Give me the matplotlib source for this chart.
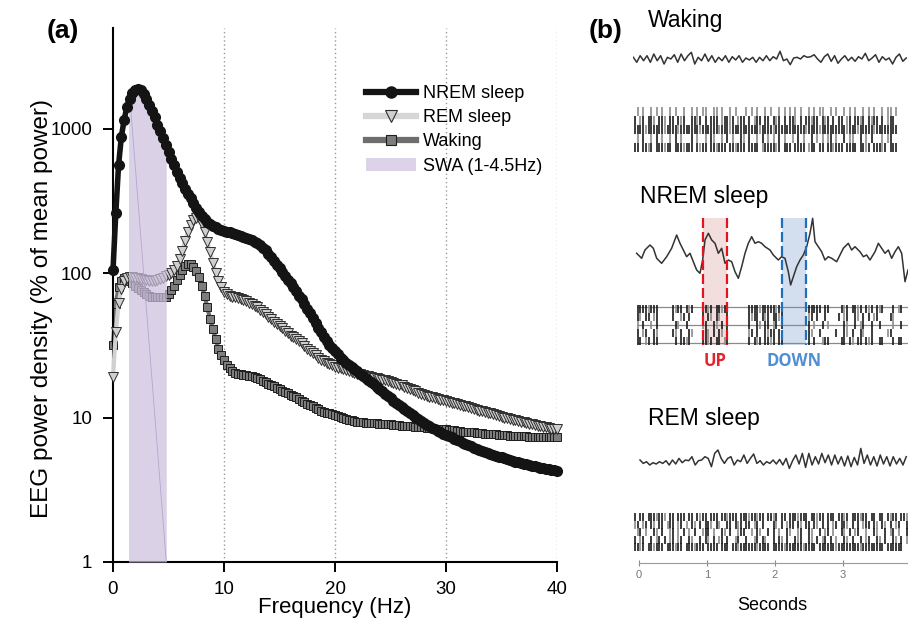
import numpy as np
import matplotlib
matplotlib.use('Agg')
import matplotlib.pyplot as plt
from matplotlib.lines import Line2D
from matplotlib.patches import Patch

plt.rcParams['font.family'] = ['Liberation Sans', 'DejaVu Sans']

# ---------------- panel (a): EEG spectra, 0.25 Hz bins
freq = np.arange(0, 40.25, 0.25)
nrem = [105, 260, 560, 880, 1150, 1420, 1620, 1780,          # 0 - 1.75
        1860, 1900, 1860, 1750, 1600, 1470, 1330, 1200,      # 2 - 3.75
        1070, 960, 860, 770, 690, 620, 560, 505,             # 4 - 5.75
        460, 420, 385, 355, 330, 305, 285, 265,              # 6 - 7.75
        250, 238, 228, 220, 213, 208, 204, 200,              # 8 - 9.75
        197, 194, 192, 189, 187, 185, 182, 179,              # 10 - 11.75
        176, 173, 169, 165, 161, 156, 150, 144,              # 12 - 13.75
        137, 130, 122, 115, 108, 102, 96, 90,                # 14 - 15.75
        85, 80, 75, 70, 66, 61, 57, 53,                      # 16 - 17.75
        49, 45, 42, 39, 36, 34, 32, 30.5,                    # 18 - 19.75
        29, 27.5, 26, 25, 24, 23.2, 22.5, 21.7,              # 20 - 21.75
        21, 20.2, 19.5, 18.9, 18.3, 17.6, 17, 16.4,          # 22 - 23.75
        15.8, 15.2, 14.6, 14.1, 13.6, 13.1, 12.7, 12.3,      # 24 - 25.75
        11.9, 11.5, 11.1, 10.7, 10.4, 10.1, 9.8, 9.5,        # 26 - 27.75
        9.2, 8.95, 8.7, 8.5, 8.3, 8.1, 7.9, 7.75,            # 28 - 29.75
        7.6, 7.45, 7.3, 7.15, 7.0, 6.85, 6.7, 6.6,           # 30 - 31.75
        6.5, 6.35, 6.2, 6.1, 6.0, 5.9, 5.8, 5.7,             # 32 - 33.75
        5.6, 5.52, 5.45, 5.37, 5.3, 5.22, 5.15, 5.07,        # 34 - 35.75
        5.0, 4.95, 4.9, 4.85, 4.8, 4.75, 4.7, 4.65,          # 36 - 37.75
        4.6, 4.55, 4.5, 4.46, 4.42, 4.38, 4.35, 4.32,        # 38 - 39.75
        4.3]
rem = [19, 39, 62, 78, 88, 92, 94, 94,
       93, 92, 91, 90, 90, 89, 89, 89,
       90, 91, 93, 95, 97, 100, 105, 113,
       125, 143, 168, 192, 215, 233, 243, 240,
       218, 192, 165, 140, 118, 101, 88, 80,
       74, 72, 70, 69, 68, 67, 66, 65,
       64, 62.5, 61, 59.5, 58, 56, 54, 52,
       50, 48, 46, 44.5, 43, 41.5, 40, 38.5,
       37, 36, 35, 34, 33, 31.5, 30, 29,
       28, 27, 26, 25.2, 24.5, 24, 23.5, 23,
       22.5, 22.2, 22, 21.6, 21.3, 21, 20.8, 20.5,
       20.2, 19.9, 19.7, 19.5, 19.3, 19.1, 18.9, 18.7,
       18.5, 18.3, 18.1, 17.9, 17.7, 17.4, 17.2, 16.9,
       16.7, 16.4, 16.1, 15.8, 15.5, 15.2, 14.9, 14.6,
       14.4, 14.2, 14.0, 13.8, 13.6, 13.45, 13.3, 13.15,
       13.0, 12.85, 12.7, 12.55, 12.4, 12.25, 12.1, 11.95,
       11.8, 11.65, 11.5, 11.35, 11.2, 11.05, 10.9, 10.8,
       10.7, 10.55, 10.4, 10.25, 10.1, 10.0, 9.9, 9.8,
       9.7, 9.6, 9.5, 9.4, 9.3, 9.2, 9.1, 9.0,
       8.9, 8.8, 8.7, 8.62, 8.55, 8.48, 8.4, 8.35,
       8.3]
wake = [32, 61, 80, 89, 92, 90, 88, 85,
        82, 79, 76, 74, 72, 70, 69, 68,
        68, 68, 68, 69, 72, 76, 82, 90,
        98, 106, 113, 116, 116, 111, 104, 94,
        82, 70, 58, 48, 41, 35, 30, 27,
        25, 23.3, 22, 21, 20.5, 20.2, 20, 19.8,
        19.7, 19.5, 19.3, 19.1, 18.8, 18.4, 18, 17.6,
        17.2, 16.8, 16.5, 16.1, 15.8, 15.4, 15.1, 14.7,
        14.4, 14.1, 13.8, 13.4, 13.1, 12.8, 12.5, 12.2,
        12.0, 11.7, 11.5, 11.2, 11.0, 10.85, 10.7, 10.55,
        10.4, 10.25, 10.1, 9.95, 9.8, 9.7, 9.6, 9.5,
        9.4, 9.35, 9.3, 9.25, 9.2, 9.2, 9.2, 9.15,
        9.1, 9.1, 9.1, 9.05, 9.0, 8.95, 8.9, 8.85,
        8.8, 8.78, 8.75, 8.72, 8.7, 8.65, 8.6, 8.58,
        8.55, 8.52, 8.5, 8.45, 8.4, 8.38, 8.35, 8.32,
        8.3, 8.25, 8.2, 8.15, 8.1, 8.05, 8.0, 7.98,
        7.95, 7.92, 7.9, 7.85, 7.8, 7.78, 7.75, 7.72,
        7.7, 7.68, 7.65, 7.62, 7.6, 7.58, 7.55, 7.52,
        7.5, 7.5, 7.5, 7.48, 7.45, 7.42, 7.4, 7.4,
        7.4, 7.38, 7.35, 7.35, 7.35, 7.32, 7.3, 7.3,
        7.3]
swa_band = (1.4, 4.8)
xticks_a = [0, 10, 20, 30, 40]
yticks_a = [1, 10, 100, 1000]
legend_labels = ['NREM sleep', 'REM sleep', 'Waking', 'SWA (1-4.5Hz)']

# ---------------- panel (b): EEG traces (amplitude in px-like units) and rasters
wake_eeg = [1.7, -3.3, 3.3, -1.7, 3.3, -3.3, 5, -1.7, 3.3, -5, 1.7, 0, 4.3, -3.3, 5, -1.7,
            3.3, 6.7, -5, 1.7, -1.7, 5, -2.3, 3.3, -3.3, 1.7, -1.7, 3.3, -3.3, 2.3, -1, 3.3,
            -3.3, 1, -1, 1.7, -3.3, 1.7, -1.7, 3.3, -1.7, 2.3, 0, 7.7, -1.7, 0, -5.7, 1,
            1.7, 0, 3.3, 1.7, 2.3, 4.3, 0, -3.3, 2.3, 5, -2.3, 3.3, -4.3, 0, 3.3, -1.7,
            1.7, -2.3, 2.3, 0, 5.7, -1.7, 1, 4.3, -3.3, 2.3, -1, 1, -5, 1.7, 5, -2.3, 1]
wake_span = (-0.083, 3.93)
rem_eeg = [1.7, -1.7, 0, -3.3, -1, -2.3, 0, -1.7, 1, -3.3, 1.7, -2.3, 3.3, -1, 1.7, 1,
           5, -3.3, 1, 1.7, 5, 3.3, -5, 8.3, 11.7, 3.3, -1.7, 3.3, 5, -3.3, 1.7, 0,
           6.7, -1.7, 3.3, 7.7, -1.7, 1, -3.3, 0, -1.7, 1.7, -2.3, 2.3, -3.3, 3.3, -6.7, 1,
           6.7, -2.3, 8.3, -5.7, 8.3, -3.3, 5, -2.3, 8.3, -1, 6.7, -3.3, 6.7, -2.3, 5, -4.3,
           5.7, -5, 4.3, -3.3, 13.3, -1.7, 6.7, -3.3, 5, -4.3, 6.7, -2.3, 5, -4.3, 5, -2.3,
           3.3, -3.3, 5]
rem_span = (0.015, 3.93)
nrem_t = [-0.034, 0.039, 0.088, 0.162, 0.211, 0.26, 0.333, 0.407, 0.48, 0.554, 0.603, 0.652,
          0.701, 0.75, 0.799, 0.848, 0.897, 0.936, 0.971, 1.02, 1.069, 1.118, 1.167, 1.216,
          1.265, 1.314, 1.363, 1.412, 1.461, 1.51, 1.559, 1.608, 1.657, 1.706, 1.755, 1.804,
          1.853, 1.926, 1.975, 2.049, 2.098, 2.147, 2.196, 2.23, 2.27, 2.319, 2.368, 2.417,
          2.466, 2.515, 2.554, 2.588, 2.637, 2.686, 2.735, 2.784, 2.833, 2.907, 2.956, 3.005,
          3.078, 3.127, 3.176, 3.25, 3.299, 3.348, 3.397, 3.471, 3.52, 3.569, 3.618, 3.667,
          3.716, 3.765, 3.814, 3.863, 3.912, 3.956]
nrem_eeg = [4.7, -0.3, 8, 13, 9.7, -0.3, -5.3, 1.3, 9.7, 23, 14.7, 8,
            1.3, 4.7, -3.7, -12, -15.3, -2, 18, 24.7, 18, 14.7, 4.7, 9.7,
            -5.3, -2, -3.7, -13.7, -20.3, -8.7, 4.7, 14.7, 21.3, 14.7, 16.3, 14.7,
            11.3, 8, 3, -2, 1.3, -0.3, -13.7, -27, -18.7, -8.7, -2, 3,
            11.3, 24.7, 39.7, 16.3, 11.3, 6.3, -2, 1.3, -0.3, -3.7, 3, 9.7,
            14.7, 8, 11.3, 6.3, 1.3, 3, -2, 6.3, 14.7, 9.7, 4.7, 8,
            -0.3, 6.3, 11.3, 4.7, -23.7, -12]
up_state = (0.941, 1.294)
down_state = (2.103, 2.456)
seconds_ticks = [0, 1, 2, 3]

# raster rows: one char per 40 ms bin from -0.08 s; '|' spike, ':' faint spike
raster_bin0, raster_dt = -0.08, 0.04
wake_raster = [
    ".:.:..:.:.:..:.:..:..:.:.::..::.:..:.:...:.:.:..:.:..:.:.:.:.:..:.:.::..:.:..:.:.:..:.:.:..:.::.:.",
    "|.:|.||:.||:.||.|:|..||:|.|.|||.:||:|.:||.|.:||.||.|:|.|.||:.|.||:||.|:|.|.||.:|.||:|.|:||.|.:||",
    "||||:||||||:||||:|||||||:||||||:|||:||||||||||:||||:|||||||||||:||||:|||||||||:|||:|||||:||||||||",
    ".:.|..:.|.:..:.|.:...|.:..:.|:..:.|.:..|:.|..:.|.:.:.|.:..:.|.:..|.:.:.:|.:..|.::..|.:.|...:.:|..",
    "||.||:|.|||:||.|||:|||.|:||.||:|||.||:|||.||||.:||||:|.|||.||||.:||.||.||:|||.||||.||:|.|||:|.|||",
]
nrem_raster = [
    ".||||:|||.....|:||.|:|...||:|.||:||.......||||:|||||:||.........|||||.||....|:|.||:|.|:|.|:|...|.:|..",
    ".|:.||.:|.....|..:|.|....|.|:.|:..|.......|:||.|:|.||:|.........:|.|..|....|.:|..|:.|.|.:|....|:...",
    ".:.|..:.|......|:..|.....:|..|:.|.|.......|..|:.||.:|.|.........|.:..|.:.....|:..|.:|..|..|....:..|..",
    ".|.:|..|:.....|:.|..|:....|:.|.|:.|.......:|.|..|:||.|..........|:..|.....|..|:.|..|:..|.....:|...",
    ".||.:|.||......|.||:|....||:|.||.:|.......|.|:|.||:|.||.........|.|..:||....||.|:.||.|:|..||...|.||..",
]
rem_raster = [
    "|.||.|||:||:.||.|||.||.|:||.|||.||:|||.|||:||:||.||:|.||.|||:|||.||:||.|||.||:|.|||:||.||.||.|:||.||:|",
    ":|.:|.|:.||.:||.:|.:.|:.|.||:.|:..||.|:|.||.:|.|...|:.|.:||.|:.||.|:.|.|.:|.||:.|.|.:||.|:.|:.|.:|..|:",
    ".:|.:..|:.|..:|.:.|.:.|..:||.:..|:.|..:||..:.|:..|.|.:..|:..:|..|:..|.:|.:..|:.|.:|..:..|:..|.:|.:..|:..",
    "|.:|..|.:|.|.:|.:|..|:..|.|:.|.:|.|..:|..|..:|.|:..|.|:.|..|:|..|:.|.:|.|.:..|:.|..|.:|..|:.|..|:.|.:|",
    "||:|.||:|||.|||:||.|||:|||.||||.|||.||:||||||:||||.||||:||||||:||||.||||||:||||||||:||||||||.||||||",
]

W, H = 908, 634
fig = plt.figure(figsize=(W / 100, H / 100), dpi=100)

# ---------------------------------------------------------------- panel (a)
ax = fig.add_axes([113 / W, (H - 562) / H, 444 / W, 534 / H])
ax.set_yscale('log')
ax.set_xlim(0, 40)
ax.set_ylim(1, 5000)

for xv in xticks_a[1:]:
    ax.axvline(xv, color='#9a9a9a', lw=1, ls=(0, (1, 2)), zorder=1)

ax.plot(freq, wake, color='#6e6e6e', lw=3, marker='s', ms=6, mfc='#7d7d7d',
        mec='#1e1e1e', mew=0.7, zorder=2, clip_on=False)
ax.plot(freq, rem, color='#d0d0d0', lw=3, marker='v', ms=6.8, mfc='#cfcfcf',
        mec='#2e2e2e', mew=0.7, zorder=3, clip_on=False)

lo, hi = swa_band
inside = (freq > lo) & (freq < hi)
bx = np.concatenate([[lo], freq[inside], [hi]])
by = np.interp(bx, freq, nrem)
ax.fill_between(bx, 1, by, color='#cdc0de', alpha=0.72, lw=0, zorder=3.5)
ax.plot([lo + 0.15, hi], [by[0], 1], color='#b3a7cc', lw=0.6, zorder=3.6)

ax.plot(freq, nrem, color='#141414', lw=4, marker='o', ms=7, mfc='#141414',
        mec='#141414', zorder=4, clip_on=False)

for s in ['top', 'right']:
    ax.spines[s].set_visible(False)
for s in ['left', 'bottom']:
    ax.spines[s].set_linewidth(1.5)
ax.set_xticks(xticks_a)
ax.set_yticks(yticks_a)
ax.set_yticklabels([str(v) for v in yticks_a])
ax.minorticks_off()
ax.tick_params(direction='out', length=7, width=1.4, labelsize=13.5)
ax.tick_params(axis='x', pad=7)
ax.tick_params(axis='y', pad=8)

ax.set_xlabel('Frequency (Hz)', fontsize=16)
ax.xaxis.set_label_coords(0.5, -0.066)
ax.set_ylabel('EEG power density (% of mean power)', fontsize=17.5)
ax.yaxis.set_label_coords(-0.135, 0.474)

handles = [
    Line2D([], [], color='#141414', lw=4.5, marker='o', ms=8, mfc='#141414', mec='#141414'),
    Line2D([], [], color='#d6d6d6', lw=4.5, marker='v', ms=8, mfc='#cfcfcf', mec='#2e2e2e', mew=0.8),
    Line2D([], [], color='#6e6e6e', lw=4.5, marker='s', ms=7.5, mfc='#7d7d7d', mec='#1e1e1e', mew=0.8),
    Patch(facecolor='#dcd3e8', edgecolor='none'),
]
ax.legend(handles, legend_labels, loc='upper left', bbox_to_anchor=(366 / W, 1 - 85 / H),
          bbox_transform=fig.transFigure, frameon=False, fontsize=13, handlelength=2.75,
          handletextpad=0.4, labelspacing=0.4, borderpad=0, borderaxespad=0)

fig.text(63 / W, 1 - 31 / H, '(a)', fontsize=19, fontweight='bold', ha='center', va='center')
fig.text(606 / W, 1 - 31 / H, '(b)', fontsize=19, fontweight='bold', ha='center', va='center')

# ---------------------------------------------------------------- panel (b)
bx0 = 633
axb = fig.add_axes([bx0 / W, (H - 563) / H, (W - bx0) / W, 563 / H])
axb.set_xlim(-0.088, 3.956)
axb.set_ylim(563, 0)
for s in ['top', 'right', 'left']:
    axb.spines[s].set_visible(False)
axb.spines['bottom'].set_color('#9a9a9a')
axb.spines['bottom'].set_bounds(0, 3.956)
axb.set_yticks([])
axb.set_xticks(seconds_ticks)
axb.tick_params(axis='x', direction='inout', length=4, color='#8a8a8a', labelsize=8,
                labelcolor='#777777', pad=3)
axb.patch.set_alpha(0)

trace_kw = dict(color='#333333', lw=1.1, zorder=3)
t_w = np.linspace(wake_span[0], wake_span[1], len(wake_eeg))
axb.plot(t_w, 59 - np.array(wake_eeg), **trace_kw)
t_r = np.linspace(rem_span[0], rem_span[1], len(rem_eeg))
axb.plot(t_r, 461.7 - np.array(rem_eeg), **trace_kw)
axb.plot(nrem_t, 258 - np.array(nrem_eeg), clip_on=False, **trace_kw)

# UP / DOWN windows
axb.fill_between(up_state, 218, 345, color='#f3dede', lw=0, zorder=1)
axb.fill_between(down_state, 218, 345, color='#d3dfee', lw=0, zorder=1)
axb.vlines(up_state, 218, 345, colors='#e3141e', lw=1.6, linestyles=(0, (4.5, 1.8)), zorder=4)
axb.vlines(down_state, 218, 345, colors='#1f6fc0', lw=1.6, linestyles=(0, (4.5, 1.8)), zorder=4)
axb.text(np.mean(up_state), 361, 'UP', color='#e5232c', fontsize=12, fontweight='bold',
         ha='center', va='center', family=['Open Sans', 'DejaVu Sans'])
axb.text(np.mean(down_state), 361, 'DOWN', color='#4f8fd6', fontsize=12, fontweight='bold',
         ha='center', va='center', family=['Open Sans', 'DejaVu Sans'])

axb.hlines([307, 325, 343], -0.03, 3.956, color='#8a8a8a', lw=0.9, zorder=2)


def draw_raster(rows, centers, half):
    for row, yc in zip(rows, centers):
        dark = [raster_bin0 + (i + 0.5) * raster_dt for i, c in enumerate(row) if c == '|']
        faint = [raster_bin0 + (i + 0.5) * raster_dt for i, c in enumerate(row) if c == ':']
        axb.vlines(dark, yc - half, yc + half, colors='#1a1a1a', lw=1.2, zorder=3)
        axb.vlines(faint, yc - half, yc + half, colors='#8c8c8c', lw=1.2, zorder=3)


draw_raster(wake_raster, [111, 120, 129, 138, 147], 4.5)
draw_raster(nrem_raster, [309, 317, 325, 333, 341], 4.2)
draw_raster(rem_raster, [517, 524.5, 532, 539.5, 547], 4)

fig.text(648 / W, 1 - 20 / H, 'Waking', fontsize=16.5, va='center')
fig.text(640 / W, 1 - 196 / H, 'NREM sleep', fontsize=16.5, va='center')
fig.text(648 / W, 1 - 418 / H, 'REM sleep', fontsize=16.5, va='center')
fig.text(772 / W, 1 - 605 / H, 'Seconds', fontsize=13, ha='center', va='center')

fig.savefig('out.png', dpi=100)
